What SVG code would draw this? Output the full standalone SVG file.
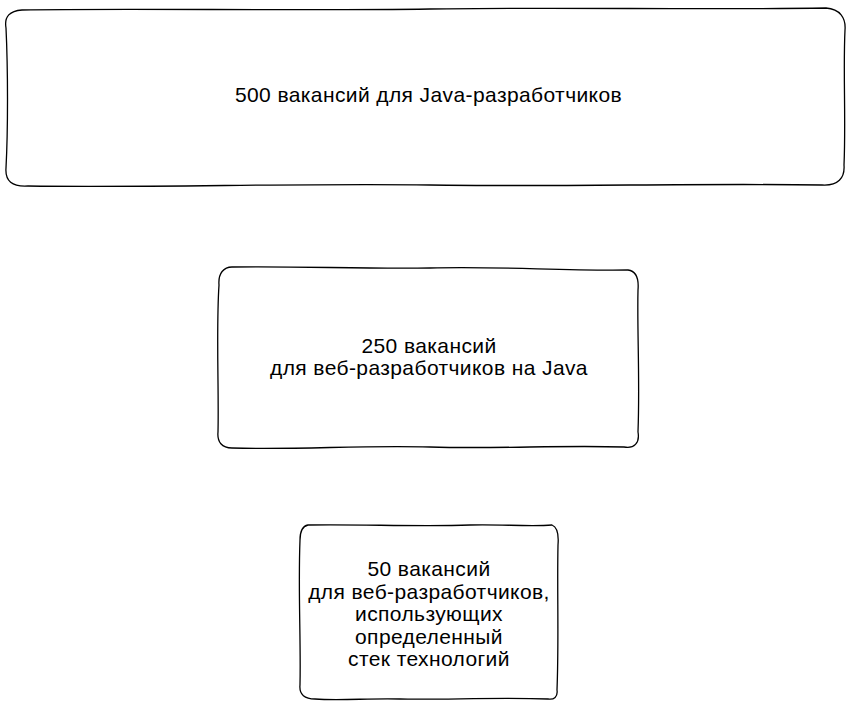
<svg xmlns="http://www.w3.org/2000/svg" width="847" height="702" viewBox="0 0 847 702">
<style>
.box{fill:#fff;stroke:#000;stroke-width:1.3;stroke-linejoin:round}
.t{font-family:"Liberation Sans",Arial,sans-serif;font-size:21px;letter-spacing:0.4px;fill:#000;text-anchor:middle}
</style>
<rect width="847" height="702" fill="#fff"/>
<g id="node1">
<path class="box" d="M22 10 C120 8 300 11 430 9 C560 7 700 10 826 8 C840 9 846 18 845 30 C843 70 846 120 844 165 C845 178 838 186 822 185 C700 183 560 187 430 185 C300 183 150 188 28 186 C12 187 5 181 6 168 C8 130 8 70 6 28 C4 16 10 11 22 10 Z"/>
<text class="t" x="428.5" y="102">500 вакансий для Java-разработчиков</text>
</g>
<g id="node2">
<path class="box" d="M232 267 C300 266 360 269 430 268 C500 266 560 271 628 270 C636 271 639 278 638 290 C637 330 640 380 638 432 C640 443 634 449 624 447 C560 445 500 449 430 447 C360 445 300 450 232 448 C222 448 217 442 218 432 C219 390 216 330 219 285 C218 273 224 267 232 267 Z"/>
<text class="t" x="429" y="353">250 вакансий</text>
<text class="t" x="429" y="375">для веб-разработчиков на Java</text>
</g>
<g id="node3">
<path class="box" d="M308 525 C360 524 420 527 470 525 C500 524 530 527 552 525 C557 527 559 533 558 545 C557 590 559 640 557 690 C558 697 554 700 548 699 C500 697 440 700 400 699 C370 698 340 701 315 699 C305 699 299 695 300 685 C301 640 298 590 300 540 C300 530 303 526 308 525 Z"/>
<text class="t" x="429" y="576">50 вакансий</text>
<text class="t" x="429" y="598.5">для веб-разработчиков,</text>
<text class="t" x="429" y="621">использующих</text>
<text class="t" x="429" y="643.5">определенный</text>
<text class="t" x="429" y="666">стек технологий</text>
</g>
<g id="connectors"></g>
</svg>
